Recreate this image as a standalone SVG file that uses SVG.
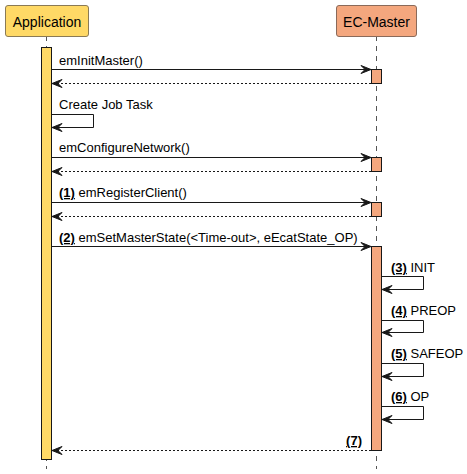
<svg xmlns="http://www.w3.org/2000/svg" width="467" height="474" viewBox="0 0 467 474">
<style>
text{font-family:"Liberation Sans",Arial,sans-serif;font-size:13px;fill:#000}
.pt{font-size:14px}
.n{font-weight:bold;text-decoration:underline}
.life{stroke:#555;stroke-width:1;stroke-dasharray:5,5;fill:none}
.msg{stroke:#181818;stroke-width:1;fill:none}
.ret{stroke:#181818;stroke-width:1;fill:none;stroke-dasharray:2,2}
.ah{fill:#181818;stroke:#181818;stroke-width:1}
.actA{fill:#FFD966;stroke:#181818;stroke-width:1}
.actE{fill:#F4A77E;stroke:#181818;stroke-width:1}
</style>
<g id="lifelines">
<line class="life" x1="46.5" y1="36" x2="46.5" y2="469"/>
<line class="life" x1="376.5" y1="36" x2="376.5" y2="469"/>
</g>
<g id="Application">
<rect x="5.5" y="5.5" width="83" height="31" rx="2.5" fill="#FFD966" stroke="#8A7A55" stroke-width="1"/>
<text class="pt" x="47" y="26.5" text-anchor="middle">Application</text>
<rect class="actA" x="41.5" y="47.5" width="10" height="412"/>
</g>
<g id="EC-Master">
<rect x="336.5" y="5.5" width="80" height="31" rx="2.5" fill="#F4A77E" stroke="#8A6A5A" stroke-width="1"/>
<text class="pt" x="376.5" y="26.5" text-anchor="middle">EC-Master</text>
<rect class="actE" x="371.5" y="69.5" width="10" height="14"/>
<rect class="actE" x="371.5" y="157.5" width="10" height="14"/>
<rect class="actE" x="371.5" y="202.5" width="10" height="14"/>
<rect class="actE" x="371.5" y="246.5" width="10" height="204"/>
</g>
<g id="connectors">
<line class="msg" x1="51.5" y1="69.5" x2="370" y2="69.5"/>
<polygon class="ah" points="371,69.5 361,65.5 365,69.5 361,73.5"/>
<text x="59" y="65">emInitMaster()</text>
<line class="ret" x1="371" y1="83.5" x2="53" y2="83.5"/>
<polygon class="ah" points="52,83.5 62,79.5 58,83.5 62,87.5"/>

<text x="59" y="109">Create Job Task</text>
<polyline class="msg" points="51.5,114.5 93.5,114.5 93.5,127.5 53,127.5"/>
<polygon class="ah" points="52,127.5 62,123.5 58,127.5 62,131.5"/>

<text x="59" y="152">emConfigureNetwork()</text>
<line class="msg" x1="51.5" y1="157.5" x2="370" y2="157.5"/>
<polygon class="ah" points="371,157.5 361,153.5 365,157.5 361,161.5"/>
<line class="ret" x1="371" y1="171.5" x2="53" y2="171.5"/>
<polygon class="ah" points="52,171.5 62,167.5 58,171.5 62,175.5"/>

<text x="59" y="197"><tspan class="n">(1)</tspan> emRegisterClient()</text>
<line class="msg" x1="51.5" y1="202.5" x2="370" y2="202.5"/>
<polygon class="ah" points="371,202.5 361,198.5 365,202.5 361,206.5"/>
<line class="ret" x1="371" y1="216.5" x2="53" y2="216.5"/>
<polygon class="ah" points="52,216.5 62,212.5 58,216.5 62,220.5"/>

<text x="59" y="242"><tspan class="n">(2)</tspan> emSetMasterState(&lt;Time-out&gt;, eEcatState_OP)</text>
<line class="msg" x1="51.5" y1="246.5" x2="370" y2="246.5"/>
<polygon class="ah" points="371,246.5 361,242.5 365,246.5 361,250.5"/>

<text x="391" y="272"><tspan class="n">(3)</tspan> INIT</text>
<polyline class="msg" points="381.5,276.5 423.5,276.5 423.5,289.5 383,289.5"/>
<polygon class="ah" points="382,289.5 392,285.5 388,289.5 392,293.5"/>

<text x="391" y="315"><tspan class="n">(4)</tspan> PREOP</text>
<polyline class="msg" points="381.5,320.5 423.5,320.5 423.5,332.5 383,332.5"/>
<polygon class="ah" points="382,332.5 392,328.5 388,332.5 392,336.5"/>

<text x="391" y="358"><tspan class="n">(5)</tspan> SAFEOP</text>
<polyline class="msg" points="381.5,363.5 423.5,363.5 423.5,376.5 383,376.5"/>
<polygon class="ah" points="382,376.5 392,372.5 388,376.5 392,380.5"/>

<text x="391" y="401"><tspan class="n">(6)</tspan> OP</text>
<polyline class="msg" points="381.5,406.5 423.5,406.5 423.5,419.5 383,419.5"/>
<polygon class="ah" points="382,419.5 392,415.5 388,419.5 392,423.5"/>

<text x="362" y="445" text-anchor="end"><tspan class="n">(7)</tspan></text>
<line class="ret" x1="371" y1="450.5" x2="53" y2="450.5"/>
<polygon class="ah" points="52,450.5 62,446.5 58,450.5 62,454.5"/>
</g>
</svg>
